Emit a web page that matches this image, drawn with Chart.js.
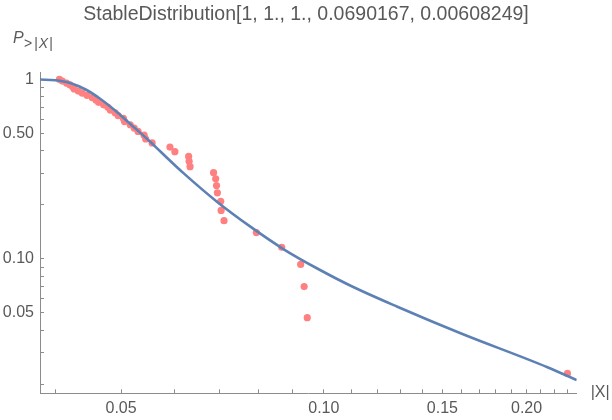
<!DOCTYPE html>
<html>
<head>
<meta charset="utf-8">
<script src="https://cdn.jsdelivr.net/npm/chart.js@4.4.1/dist/chart.umd.min.js"></script>
<style>
  html, body { margin: 0; padding: 0; background: #fff; }
  #wrap { width: 612px; height: 420px; position: relative; }
</style>
</head>
<body>
<div id="wrap"><canvas id="c"></canvas></div>
<script>
// empirical survival points (|X|, P>|X|)
const dataX = [0.0405, 0.0409, 0.0415, 0.0420, 0.0424, 0.0426, 0.0432, 0.0438, 0.0445, 0.0453,
               0.0459, 0.0463, 0.0471, 0.0478, 0.0482, 0.0490, 0.0495, 0.0504, 0.0506, 0.0516,
               0.0523, 0.0530, 0.0541, 0.0544, 0.0556, 0.0591, 0.0601, 0.0630, 0.0631, 0.0633,
               0.0686, 0.0691, 0.0693, 0.0695, 0.0703, 0.0704, 0.0711, 0.0794, 0.0866, 0.0924,
               0.0935, 0.0945, 0.2300];
const dataY = [1.000, 0.977, 0.953, 0.930, 0.907, 0.884, 0.860, 0.837, 0.814, 0.791,
               0.767, 0.744, 0.721, 0.698, 0.674, 0.651, 0.628, 0.605, 0.581, 0.558,
               0.535, 0.512, 0.488, 0.465, 0.442, 0.419, 0.395, 0.372, 0.349, 0.326,
               0.302, 0.279, 0.256, 0.233, 0.209, 0.186, 0.163, 0.140, 0.116, 0.093,
               0.070, 0.047, 0.023];

// fitted stable distribution curve
const curveX = [0.0379, 0.0399, 0.0420, 0.0443, 0.0466, 0.0490, 0.0516, 0.0553, 0.0572, 0.0619,
                0.0694, 0.0778, 0.0872, 0.0978, 0.1096, 0.1286, 0.1596, 0.2148, 0.2374];
const curveY = [0.997, 0.987, 0.954, 0.877, 0.777, 0.670, 0.564, 0.447, 0.396, 0.300,
                0.208, 0.151, 0.113, 0.0883, 0.0708, 0.0541, 0.0385, 0.0249, 0.0211];

const xTicks = [0.04, 0.05, 0.06, 0.07, 0.08, 0.09, 0.1, 0.11, 0.12, 0.13, 0.14, 0.15,
                0.16, 0.17, 0.18, 0.19, 0.2, 0.21, 0.22, 0.23];
const xMajor = [0.05, 0.1, 0.15, 0.2];
const xLabels = ['0.05', '0.10', '0.15', '0.20'];
const yTicks = [1, 0.9, 0.8, 0.7, 0.6, 0.5, 0.4, 0.3, 0.2, 0.1, 0.09, 0.08, 0.07, 0.06,
                0.05, 0.04, 0.03, 0.02];
const yMajor = [1, 0.5, 0.1, 0.05];
const yLabels = ['1', '0.50', '0.10', '0.05'];

const title = 'StableDistribution[1, 1., 1., 0.0690167, 0.00608249]';
const FONT = '"Liberation Sans", Arial, sans-serif';
const AXIS = '#8c8c8c';
const TXT = '#595959';

// axis labels drawn like mathematica: P_{>|X|} at top-left, |X| at end of x axis
const axisLabels = {
  id: 'axisLabels',
  afterDraw(chart) {
    const ctx = chart.ctx, a = chart.chartArea;
    ctx.save();
    ctx.fillStyle = TXT;
    ctx.textBaseline = 'alphabetic';
    ctx.textAlign = 'left';
    ctx.font = 'italic 16px ' + FONT;
    ctx.fillText('P', 13, 43);
    let x = 24;
    const sub = (s, italic, gap) => {
      ctx.font = (italic ? 'italic ' : '') + '14px ' + FONT;
      ctx.fillText(s, x, 48);
      x += ctx.measureText(s).width + gap;
    };
    sub('>', false, 2);
    sub('|', false, 1);
    sub('X', true, 1);
    sub('|', false, 0);
    ctx.font = '16px ' + FONT;
    ctx.textBaseline = 'middle';
    ctx.fillText('|X|', a.right + 14, a.bottom - 1);
    ctx.restore();
  }
};

new Chart(document.getElementById('c'), {
  type: 'scatter',
  data: {
    datasets: [
      {
        label: 'fit',
        data: curveX.map((x, i) => ({ x, y: curveY[i] })),
        showLine: true,
        borderColor: '#5e81b5',
        borderWidth: 2.6,
        pointRadius: 0,
        cubicInterpolationMode: 'monotone',
        fill: false
      },
      {
        label: 'data',
        data: dataX.map((x, i) => ({ x, y: dataY[i] })),
        backgroundColor: '#ff8080',
        borderWidth: 0,
        pointRadius: 3.6
      }
    ]
  },
  plugins: [axisLabels],
  options: {
    responsive: true,
    maintainAspectRatio: false,
    animation: false,
    layout: { padding: 0 },
    plugins: {
      legend: { display: false },
      tooltip: { enabled: false },
      title: {
        display: true, text: title, color: TXT,
        font: { family: FONT, size: 19.5, weight: 'normal' },
        padding: { top: 3, bottom: 46.3 }
      }
    },
    scales: {
      x: {
        type: 'logarithmic', position: 'bottom', min: 0.0379, max: 0.2374,
        afterBuildTicks: s => { s.ticks = xTicks.map(v => ({ value: v })); },
        afterFit: s => { s.height = 26.7; },
        ticks: {
          autoSkip: false, maxRotation: 0, padding: 10, color: TXT,
          font: { family: FONT, size: 16 },
          callback: v => { const i = xMajor.indexOf(v); return i >= 0 ? xLabels[i] : ''; }
        },
        grid: { drawOnChartArea: false, tickLength: -4, tickColor: AXIS },
        border: { color: AXIS, width: 1 }
      },
      y: {
        type: 'logarithmic', position: 'left', min: 0.01782, max: 1.088,
        afterBuildTicks: s => { s.ticks = yTicks.map(v => ({ value: v })); },
        afterFit: s => { s.width = 40; },
        ticks: {
          autoSkip: false, padding: 10, color: TXT,
          font: { family: FONT, size: 16 },
          callback: v => { const i = yMajor.indexOf(v); return i >= 0 ? yLabels[i] : ''; }
        },
        grid: { drawOnChartArea: false, tickLength: -4, tickColor: AXIS },
        border: { color: AXIS, width: 1 }
      },
      // empty right-hand gutter where the |X| label sits
      gutter: {
        type: 'linear', position: 'right', display: true,
        afterFit: s => { s.width = 35.3; },
        ticks: { display: false },
        grid: { display: false },
        border: { display: false }
      }
    }
  }
});
</script>
</body>
</html>
